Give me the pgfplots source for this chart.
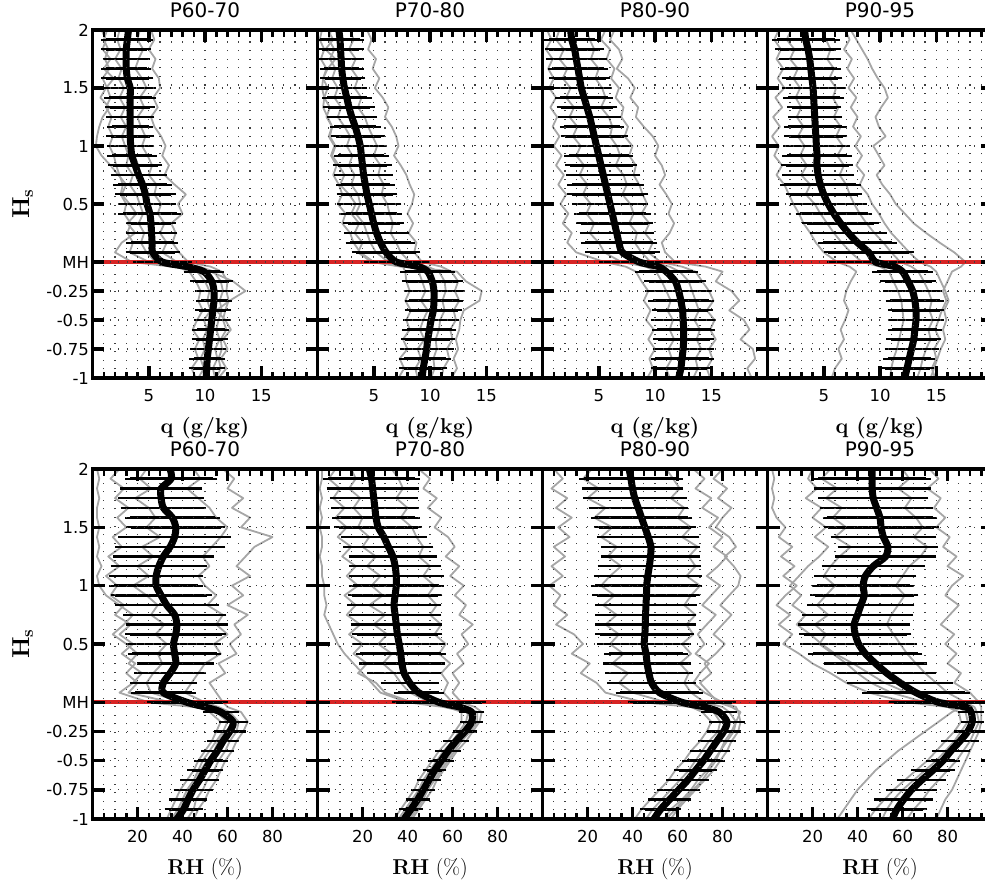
\documentclass[border=0pt]{standalone}
\usepackage{pgfplots}
\usepackage{pgfplotstable}
\usepackage{fontspec}
\pgfplotsset{compat=1.18}
\newfontfamily\dejavu{DejaVu Sans}
\newcommand\tickfont{\dejavu\fontsize{16.5}{19}\selectfont}
\newcommand\titlefont{\dejavu\fontsize{20}{23}\selectfont}
\newcommand\labelfont{\fontsize{21.5}{25}\selectfont}
\newcommand\hsfont{\fontsize{24.5}{28}\selectfont}
\definecolor{mhred}{RGB}{215,35,35}

% columns: y = scaled height, m = mean, e = spread (half width),
% a b c d f = individual soundings
\pgfplotstableread{
y m e a b c d f
2 3.2 0 1.3 5.2 2.4 4.2 0.8
1.917 3.1 1.9 1.0 5.5 2.2 4.0 1.2
1.833 3.0 1.8 1.4 5.0 2.5 4.5 0.9
1.75 3.0 1.7 1.1 5.6 2.0 4.1 1.6
1.667 3.0 1.8 1.5 5.3 2.6 3.8 1.0
1.583 3.1 1.9 0.9 5.9 2.3 4.4 1.9
1.5 3.35 1.9 1.3 6.0 2.8 4.8 1.2
1.417 3.35 1.9 1.6 5.4 2.4 4.2 0.7
1.333 3.35 1.8 1.2 5.8 2.9 4.6 1.5
1.25 3.35 1.75 1.7 5.2 2.5 4.0 0.9
1.167 3.35 1.65 1.4 5.5 3.0 4.3 0.6
1.083 3.35 1.75 1.8 6.1 2.6 4.7 0.4
1 3.4 1.7 1.5 6.5 2.9 4.4 0.3
0.917 3.5 1.8 1.9 6.2 3.2 4.9 0.8
0.833 3.8 2.0 2.1 6.8 3.0 5.3 1.6
0.75 4.1 2.1 2.4 6.4 3.6 5.0 2.3
0.667 4.45 2.2 2.7 7.3 3.3 5.7 3.0
0.583 4.7 2.3 2.5 8.3 3.9 5.5 2.6
0.5 4.85 2.2 3.0 7.6 4.2 6.1 3.3
0.417 5.1 2.4 2.8 8.0 4.5 5.8 3.9
0.333 5.2 1.8 3.4 7.0 4.1 6.4 3.1
0.25 5.25 1.9 3.1 7.4 4.6 6.0 3.8
0.167 5.3 1.9 3.6 7.1 4.3 6.6 2.6
0.083 5.35 2.0 3.3 7.7 4.8 6.2 2.0
0 6.2 2.2 5.0 8.5 5.6 7.5 3.5
-0.04 8.4 0 7.5 10.5 8.0 9.5 7.0
-0.083 9.9 1.4 8.6 11.5 9.3 10.8 10.5
-0.167 10.6 1.5 9.2 12.0 10.0 11.4 12.5
-0.25 10.8 1.3 9.6 11.9 10.4 11.6 13.6
-0.333 10.8 1.2 9.4 12.1 10.2 11.3 12.2
-0.417 10.7 1.2 9.8 11.8 10.5 11.5 11.0
-0.5 10.6 1.2 9.3 11.6 9.9 11.2 11.8
-0.583 10.5 1.25 8.9 11.9 10.2 11.0 12.3
-0.667 10.4 1.2 9.5 11.4 9.8 11.3 11.6
-0.75 10.3 1.2 9.1 11.5 10.0 10.9 12.0
-0.833 10.2 1.2 9.4 11.2 9.6 11.1 11.4
-0.917 10.15 1.2 8.8 11.4 9.9 10.7 11.9
-1 10.1 0 9.2 11.0 9.4 10.9 11.2
}\qA

\pgfplotstableread{
y m e a b c d f
2 1.9 0 0.4 4.4 1.2 2.9 0.9
1.917 2.0 1.75 0.2 4.8 1.0 3.2 1.4
1.833 2.05 1.65 0.6 4.5 1.5 2.8 0.7
1.75 2.1 1.6 0.3 5.2 1.1 3.4 1.6
1.667 2.15 1.55 0.8 4.9 1.6 3.0 0.9
1.583 2.25 1.6 0.5 5.5 1.3 3.6 0.5
1.5 2.4 1.6 0.9 5.1 1.8 3.3 0.4
1.417 2.6 1.8 0.6 5.8 1.5 3.9 0.6
1.333 2.8 1.9 1.1 6.3 2.1 3.6 0.5
1.25 3.05 1.85 0.8 6.0 1.8 4.2 0.9
1.167 3.35 1.85 1.3 6.6 2.4 4.5 1.3
1.083 3.6 2.0 1.0 7.0 2.9 4.9 1.1
1 3.8 1.9 1.5 7.2 2.6 5.3 1.6
0.917 3.9 2.05 1.2 6.8 3.1 5.0 1.3
0.833 4.0 2.2 1.7 7.4 2.8 5.6 1.9
0.75 4.1 2.2 1.4 7.9 3.3 5.4 2.4
0.667 4.25 2.2 1.9 8.2 3.0 5.9 2.0
0.583 4.4 2.3 2.2 8.6 3.6 5.7 2.8
0.5 4.6 2.45 1.8 8.4 3.8 6.2 3.4
0.417 4.8 2.3 2.5 8.0 3.4 6.4 3.0
0.333 5.0 2.3 2.2 8.5 4.1 6.7 3.7
0.25 5.25 2.5 2.9 8.1 4.4 6.5 3.3
0.167 5.6 2.7 3.2 8.8 4.7 7.0 4.0
0.083 6.1 2.65 3.8 8.6 5.2 7.4 3.6
0 7.0 2.5 5.0 9.3 6.3 8.2 4.8
-0.04 9.0 0 7.6 11.0 8.4 9.8 7.4
-0.083 9.8 2.05 7.8 11.9 9.0 10.8 12.4
-0.167 10.2 2.3 7.9 12.5 9.3 11.3 13.2
-0.25 10.35 2.3 8.2 12.2 9.6 11.4 14.6
-0.333 10.35 2.2 7.8 12.6 9.2 11.1 14.4
-0.417 10.3 2.15 8.3 12.1 9.8 11.3 13.0
-0.5 10.1 2.1 7.9 12.3 9.4 10.9 12.7
-0.583 9.95 2.0 8.2 11.8 9.1 10.8 12.6
-0.667 9.8 2.0 7.6 12.0 9.5 10.5 12.3
-0.75 9.7 2.0 8.0 11.5 8.9 10.6 12.5
-0.833 9.55 1.9 7.3 11.7 9.2 10.3 12.1
-0.917 9.4 1.75 7.7 11.2 8.7 10.4 12.4
-1 9.3 0 7.2 11.0 8.9 10.1 11.9
}\qB

\pgfplotstableread{
y m e a b c d f
2 2.5 0 0.4 5.6 1.5 3.9 6.4
1.917 2.6 2.05 0.8 5.2 1.2 4.2 6.0
1.833 2.85 2.25 0.3 6.0 1.9 4.6 6.8
1.75 3.0 2.3 0.9 5.7 1.5 4.3 7.1
1.667 3.15 2.3 0.5 6.4 2.2 5.0 6.6
1.583 3.3 2.3 1.0 6.1 1.8 4.7 7.6
1.5 3.45 2.2 0.6 6.8 2.5 5.3 8.2
1.417 3.7 2.15 1.2 6.5 2.1 5.6 7.8
1.333 3.95 2.3 0.7 7.2 2.8 5.2 8.5
1.25 4.2 2.4 1.3 7.0 2.4 5.9 8.3
1.167 4.4 2.45 0.9 7.6 3.1 6.2 9.0
1.083 4.6 2.6 1.5 7.3 2.7 6.0 9.8
1 4.8 2.65 1.0 8.0 3.4 6.6 10.3
0.917 5.0 2.65 1.7 7.7 3.0 6.9 10.0
0.833 5.2 2.8 1.2 8.3 3.7 6.5 10.6
0.75 5.4 2.9 1.9 8.1 3.3 7.2 10.9
0.667 5.6 3.0 1.4 8.6 4.0 7.5 10.4
0.583 5.8 3.2 2.1 8.9 3.6 7.1 11.0
0.5 6.0 3.0 1.6 9.3 4.3 7.8 11.5
0.417 6.2 3.0 2.3 8.8 3.9 8.1 11.2
0.333 6.4 3.0 1.8 9.5 4.6 7.7 11.7
0.25 6.6 2.9 2.6 9.1 4.2 8.4 11.3
0.167 6.8 3.0 2.2 9.8 5.0 8.2 10.6
0.083 7.1 2.9 3.0 9.4 5.5 8.8 10.9
0 8.6 3.2 5.5 10.5 7.0 9.6 11.8
-0.04 10.3 0 7.4 12.4 9.2 11.3 14.5
-0.083 11.0 2.4 8.3 13.6 10.1 12.2 16.0
-0.167 11.8 2.35 8.8 14.2 10.6 13.0 15.4
-0.25 12.1 2.55 9.4 14.8 11.0 13.3 16.8
-0.333 12.3 2.5 9.0 15.2 11.4 13.6 17.5
-0.417 12.45 2.3 9.6 14.6 11.1 13.9 16.6
-0.5 12.5 2.5 9.2 15.3 11.6 13.5 17.9
-0.583 12.55 2.4 9.9 14.9 11.3 14.0 18.4
-0.667 12.55 2.3 9.4 15.4 11.7 13.7 17.6
-0.75 12.5 2.3 10.0 14.8 11.2 14.1 18.7
-0.833 12.4 2.4 9.5 15.1 11.5 13.6 18.9
-0.917 12.3 2.3 9.8 14.6 11.0 13.8 18.2
-1 12.1 0 9.3 14.9 11.3 13.4 18.6
}\qC

\pgfplotstableread{
y m e a b c d f
2 3.3 0 1.0 6.9 2.1 4.8 7.4
1.917 3.4 2.6 0.6 7.3 1.7 5.2 7.9
1.833 3.6 2.5 1.2 6.8 2.4 5.6 8.4
1.75 3.75 2.35 0.8 7.5 2.0 5.3 8.9
1.667 3.85 2.3 1.4 7.1 2.7 5.9 9.3
1.583 3.95 2.3 0.9 7.7 2.3 5.5 9.8
1.5 4.05 2.4 1.5 7.2 2.9 6.1 10.4
1.417 4.1 2.3 0.7 7.9 2.5 5.8 10.7
1.333 4.15 2.0 1.3 7.4 3.0 6.3 10.1
1.25 4.2 2.0 0.5 8.0 2.6 5.9 9.6
1.167 4.25 2.4 1.1 7.6 3.2 6.5 9.9
1.083 4.3 2.4 0.4 8.3 2.7 6.1 10.5
1 4.35 2.55 1.0 7.8 3.3 6.7 9.4
0.917 4.4 2.7 0.6 8.4 2.9 6.2 9.9
0.833 4.4 2.8 1.3 7.9 3.5 6.8 10.4
0.75 4.5 2.8 0.8 8.6 3.0 6.4 9.7
0.667 4.7 3.2 1.5 8.2 3.8 7.0 10.2
0.583 5.0 3.0 1.9 8.9 3.4 7.3 10.9
0.5 5.4 3.0 2.3 9.3 4.2 7.7 11.4
0.417 5.9 3.0 2.8 9.9 4.7 8.2 12.2
0.333 6.5 3.0 3.2 10.4 5.3 8.8 13.0
0.25 7.2 3.0 3.8 11.0 5.9 9.5 14.1
0.167 8.0 3.1 4.3 11.8 6.6 10.3 15.3
0.083 9.0 3.6 5.0 12.6 7.4 11.0 16.6
0 9.6 3.9 6.2 13.5 8.4 11.8 17.6
-0.04 11.3 0 7.3 14.5 10.0 12.8 17.2
-0.083 12.0 2.3 7.9 15.0 10.8 13.4 16.4
-0.167 12.5 2.1 7.4 15.4 11.2 13.9 16.0
-0.25 12.9 2.2 7.0 15.8 11.6 14.3 15.6
-0.333 13.1 2.2 6.8 16.1 11.9 14.6 15.9
-0.417 13.2 2.1 7.2 15.7 12.0 14.4 15.5
-0.5 13.2 2.1 6.9 15.9 12.1 14.7 15.2
-0.583 13.1 2.0 6.5 15.6 11.9 14.3 14.9
-0.667 13.0 2.05 6.8 15.8 11.7 14.5 15.3
-0.75 12.8 2.0 6.3 15.4 11.5 14.1 14.8
-0.833 12.6 1.9 6.6 15.1 11.2 13.8 15.0
-0.917 12.4 2.0 6.0 14.8 11.0 13.6 14.6
-1 12.2 0 5.7 14.5 10.9 13.3 14.9
}\qD

\pgfplotstableread{
y m e a b c d f
2 34.5 0 12 58 24 45 2
1.917 35 18.5 8 63 21 48 3
1.833 30.5 16.2 14 60 26 42 2
1.75 30.5 17 10 67 19 47 3
1.667 31.5 17 16 62 25 52 2
1.583 35.5 19 11 70 28 55 2
1.5 37 20 15 66 24 60 3
1.417 36.5 23 9 80 30 57 2
1.333 34.5 22.5 13 72 22 53 3
1.25 31.5 20.5 7 68 27 49 2
1.167 29.5 19.5 12 64 20 52 4
1.083 28.3 19 6 70 25 47 2
1 28.3 18.8 11 62 18 50 3
0.917 30.5 20.5 8 67 24 55 6
0.833 33 21 14 60 29 51 12
0.75 36.5 21 10 69 26 58 18
0.667 37.5 20.7 17 63 32 55 14
0.583 37 20.5 12 66 28 60 9
0.5 36 19.2 18 61 33 54 15
0.417 36.5 18.8 13 64 29 57 20
0.333 37 15.1 19 56 31 50 16
0.25 34.5 14 15 59 27 47 22
0.167 31.5 13 20 52 24 44 18
0.083 31.5 12.5 16 55 26 41 12
0 42 16 35 58 40 50 25
-0.04 50 0 48 60 52 56 45
-0.083 57 6 52 66 55 61 60
-0.167 62.5 4.5 57 69 60 65 64
-0.25 61 5 55 67 58 64 59
-0.333 58 5 53 64 55 61 56
-0.417 55.5 5.5 50 62 52 59 54
-0.5 52.5 5.5 47 59 49 56 51
-0.583 50 6 45 57 47 54 48
-0.667 47.5 6.5 42 55 45 51 46
-0.75 44.7 6.7 39 52 42 49 43
-0.833 42.5 6.5 37 50 40 46 41
-0.917 40.5 6.5 35 47 38 45 39
-1 37.5 0 33 45 35 42 36
}\rA

\pgfplotstableread{
y m e a b c d f
2 23 0 8 45 15 33 2
1.917 24 19.5 5 50 17 36 2
1.833 24.5 18.5 10 47 14 38 1
1.75 25 17.5 7 53 19 35 2
1.667 25.5 17.5 12 49 16 40 1
1.583 26 17.5 8 55 20 37 2
1.5 27 17.5 13 52 18 42 1
1.417 29.5 17 9 58 23 44 2
1.333 31.5 18 15 61 20 47 2
1.25 33.5 17.7 11 57 26 45 1
1.167 34.5 18.5 17 63 22 50 2
1.083 35 19.2 13 59 28 47 2
1 35 19.2 18 65 24 52 3
0.917 34.5 19 12 61 29 49 3
0.833 34 19 17 66 23 53 4
0.75 34.5 18.5 13 63 30 50 3
0.667 35 18.2 19 69 25 55 5
0.583 35.5 18 14 64 31 52 7
0.5 36.3 18.5 20 67 27 57 9
0.417 37 18 16 62 33 54 12
0.333 37.5 17 22 65 29 59 16
0.25 38.5 14.4 18 60 34 55 20
0.167 41 11 26 63 37 58 24
0.083 45 9.2 30 60 41 56 28
0 54 19 42 64 50 60 40
-0.04 63 0 58 70 61 66 56
-0.083 68.5 3.7 64 73 67 71 66
-0.167 68.5 3.0 64 72 66 71 70
-0.25 65.5 3.3 61 69 63 68 67
-0.333 61.5 3.7 58 66 60 64 63
-0.417 58 3.7 54 62 56 61 60
-0.5 55 3.7 51 59 53 58 57
-0.583 52 3.3 48 56 50 55 54
-0.667 49.5 3.3 45 53 47 52 51
-0.75 47 3.3 43 51 45 49 49
-0.833 44.5 3.3 40 48 42 47 46
-0.917 41.5 3.3 37 45 39 44 43
-1 38.5 0 34 42 36 41 40
}\rB

\pgfplotstableread{
y m e a b c d f
2 38.5 0 5 67 22 55 80
1.917 39.3 21 9 72 18 58 76
1.833 40 20.5 4 68 25 61 82
1.75 41 21 11 75 20 57 78
1.667 42.5 20 6 71 28 63 84
1.583 44 20.5 13 78 23 60 80
1.5 45.5 20.5 7 74 31 66 77
1.417 47 20.7 12 80 26 62 83
1.333 48.2 20 5 76 33 69 86
1.25 48 20 10 82 29 65 81
1.167 47.5 21 4 78 35 68 85
1.083 46.8 22 9 73 30 64 88
1 46.3 22.8 3 79 26 70 87
0.917 46.2 22 8 75 32 66 83
0.833 46 20.5 5 71 27 63 79
0.75 45.8 20.3 11 77 33 68 84
0.667 45.7 20.3 6 73 28 64 80
0.583 45.5 20 14 69 34 67 76
0.5 45.2 18.8 18 72 30 62 81
0.417 46 16.5 13 68 36 66 77
0.333 46.5 17.5 21 74 31 61 72
0.25 47.3 17.5 17 70 38 65 75
0.167 48.5 17.7 24 67 34 63 70
0.083 52 17.5 28 72 40 66 74
0 62 22 45 80 55 72 78
-0.04 72 0 66 86 70 80 84
-0.083 78.5 6 71 87 76 83 88
-0.167 82 6 75 88 79 86 86
-0.25 80.5 5.5 73 87 78 84 85
-0.333 77.5 6.3 70 84 74 81 82
-0.417 74.5 7 66 82 71 79 79
-0.5 71.5 7.4 63 79 68 76 77
-0.583 68 7.4 59 76 65 73 74
-0.667 64.5 7.4 56 72 61 69 71
-0.75 60.5 7.5 52 68 57 66 67
-0.833 56.5 7.5 48 64 53 62 63
-0.917 52.5 7 44 60 49 57 59
-1 49.5 0 41 57 46 54 55
}\rC

\pgfplotstableread{
y m e a b c d f
2 46.5 0 2 72 28 60 20
1.917 46.5 24 3 76 24 63 18
1.833 46.5 24 2 71 31 58 22
1.75 47 22.5 3 77 26 64 17
1.667 48.5 23 2 74 33 61 24
1.583 50 23.5 4 79 29 66 20
1.5 50.5 23.5 8 75 35 69 26
1.417 51.5 21.5 5 81 30 65 21
1.333 53.5 20.3 11 78 37 71 27
1.25 52.5 20.5 6 84 32 68 23
1.167 47 21 12 80 28 63 18
1.083 43.5 20.7 7 87 25 60 14
1 42.5 20.7 13 82 30 57 10
0.917 43 22 8 79 26 61 15
0.833 41.5 21.8 4 85 22 58 11
0.75 40 22.5 10 81 27 55 17
0.667 38.5 22.9 5 77 21 53 13
0.583 39 22.9 11 83 26 56 19
0.5 40.5 24 7 79 23 59 24
0.417 43.5 23.3 14 84 29 62 30
0.333 48 21 20 80 35 66 38
0.25 53 20 28 86 40 70 45
0.167 59 21.5 35 83 46 75 52
0.083 66 21.8 45 90 55 80 62
0 76 20 62 94 70 88 82
-0.04 88 0 80 95 85 92 86
-0.083 90.5 3.8 85 95 88 93 82
-0.167 91 3.0 86 95 89 94 76
-0.25 89 4.1 83 94 86 92 70
-0.333 85.5 6.5 79 92 83 90 64
-0.417 81.5 6.5 75 90 79 87 58
-0.5 78 5.5 71 88 75 84 53
-0.583 73.5 7.8 66 86 70 80 48
-0.667 68.5 8.8 61 84 65 76 44
-0.75 64 9.2 56 82 60 72 40
-0.833 60.5 11 52 79 56 69 37
-0.917 57.5 11.5 48 77 53 65 34
-1 55.5 0 45 75 51 62 31
}\rD

\pgfplotsset{
  base/.style={
    scale only axis, width=225pt, xmin=0, ymin=-1, ymax=2,
    axis on top,
    axis line style={line width=3.5pt},
    ytick={-1,-0.75,-0.5,-0.25,0,0.5,1,1.5,2},
    yticklabels={},
    major tick length=12pt, minor tick length=6.5pt,
    major tick style={line width=3.5pt, black},
    minor tick style={line width=2.5pt, black},
    xmajorgrids, xminorgrids, ymajorgrids,
    major grid style={black!75, line width=1.1pt, dash pattern=on 1.1pt off 7.5pt},
    minor grid style={black!75, line width=1.1pt, dash pattern=on 1.1pt off 7.5pt},
    tick label style={font=\tickfont},
    xticklabel style={anchor=base, yshift=-23pt},
    title style={font=\titlefont, at={(axis description cs:0.5,1)}, anchor=base, yshift=7pt},
    xlabel style={font=\labelfont, at={(axis description cs:0.5,0)}, anchor=base, yshift=-55pt},
  },
  qax/.style={base, height=348pt, xmax=20, xtick={0,5,10,15,20},
    xticklabels={,5,10,15,}, minor x tick num=4, xlabel={\textbf{q (g/kg)}}},
  rhax/.style={base, height=350pt, xmax=100, xtick={0,20,40,60,80,100},
    xticklabels={,20,40,60,80,}, minor x tick num=3, xlabel={\textbf{RH} (\%)}},
  first/.style={yticklabels={-1,-0.75,-0.5,-0.25,MH,0.5,1,1.5,2},
    ylabel={\textbf{H\textsubscript{s}}},
    ylabel style={font=\hsfont, at={(axis description cs:-0.31,0.5)}, anchor=center}},
  sounding/.style={black!35, line width=1.8pt, line join=round},
}

% one panel: #1 north-west corner, #2 axis style, #3 title, #4 table
\newcommand\panel[4]{%
\begin{axis}[#2, at={#1}, anchor=north west, title={#3}]
  \addplot[sounding] table[x=a, y=y]{#4};
  \addplot[sounding] table[x=b, y=y]{#4};
  \addplot[sounding] table[x=c, y=y]{#4};
  \addplot[sounding] table[x=d, y=y]{#4};
  \addplot[sounding] table[x=f, y=y]{#4};
  \addplot[mhred, line width=4pt] coordinates {(0,0) (100,0)};
  \addplot[draw=none, mark=none,
    skip coords between index={0}{1},
    skip coords between index={25}{26},
    skip coords between index={37}{38},
    error bars/.cd, x dir=both, x explicit,
    error bar style={draw=black, solid, line width=2.6pt},
    error mark options={draw=black, solid, line width=2.2pt, mark size=4.5pt}]
    table[x=m, y=y, x error=e]{#4};
  \addplot[black, line width=7pt, smooth, tension=0.45, line join=round, line cap=round]
    table[x=m, y=y]{#4};
\end{axis}}

\begin{document}
\begin{tikzpicture}
\panel{(92.5pt,-30pt)}{qax,first}{P60-70}{\qA}
\panel{(317.5pt,-30pt)}{qax}{P70-80}{\qB}
\panel{(542.5pt,-30pt)}{qax}{P80-90}{\qC}
\panel{(767.5pt,-30pt)}{qax}{P90-95}{\qD}
\panel{(92.5pt,-469pt)}{rhax,first}{P60-70}{\rA}
\panel{(317.5pt,-469pt)}{rhax}{P70-80}{\rB}
\panel{(542.5pt,-469pt)}{rhax}{P80-90}{\rC}
\panel{(767.5pt,-469pt)}{rhax}{P90-95}{\rD}
\pgfresetboundingbox
\useasboundingbox (0pt,0pt) rectangle (985pt,-883pt);
\end{tikzpicture}
\end{document}
